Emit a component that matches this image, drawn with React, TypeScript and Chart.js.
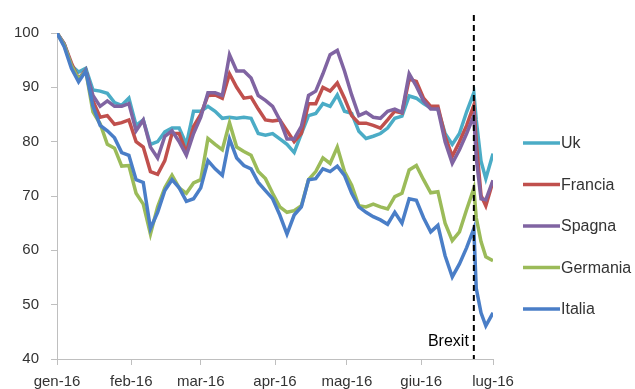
import React, { useEffect, useRef } from "react";
import { Chart, registerables } from "chart.js";

Chart.register(...registerables);

// Day offsets from 1 Jan 2016
const days = [0, 3, 6, 9, 12, 15, 18, 21, 24, 27, 30, 33, 36, 39, 42, 45, 48, 51, 54, 57, 60, 63, 66, 69, 72, 75, 78, 81, 84, 87, 90, 93, 96, 99, 102, 105, 108, 111, 114, 117, 120, 123, 126, 129, 132, 135, 138, 141, 144, 147, 150, 153, 156, 159, 162, 165, 168, 171, 174, 175, 177, 179, 182];

const uk = [100, 97.8, 94, 92.8, 93.5, 89.5, 89.3, 88.9, 87.2, 86.7, 88, 83, 84, 79.5, 80, 81.8, 82.5, 82.5, 79.5, 85.6, 85.6, 86.5, 85.6, 84.3, 84.5, 84.3, 84.5, 84.3, 81.5, 81.2, 81.5, 80.5, 79.5, 78, 81.5, 84.8, 85.2, 87, 86.5, 88.6, 85.6, 85.2, 81.9, 80.6, 81, 81.5, 82.5, 84.3, 84.7, 88.4, 88, 87, 86.2, 86, 81.5, 79.5, 81.5, 85.5, 89, 84, 76.4, 73.2, 77.8];
const francia = [100, 98, 94.5, 91.5, 93.2, 87.5, 84.5, 84.8, 83.2, 83.5, 84, 80, 79, 74.5, 74, 76.5, 81.5, 81.5, 78, 82.8, 85, 88.5, 88.6, 88, 92.5, 90, 88, 88.2, 86, 84, 83.8, 84, 82, 80, 81.5, 87, 87, 90, 89.3, 90.8, 88, 84.8, 83.4, 83.4, 83, 82.5, 84, 85.6, 85.3, 91.5, 91.1, 88, 86.5, 86.5, 81, 77.3, 80, 83, 86.7, 80, 70.1, 68.2, 72.7];
const spagna = [100, 98, 94, 91.5, 93.2, 88.5, 86.5, 87.5, 86.5, 86.5, 87, 82, 84, 79, 77, 81, 82, 80, 77.5, 81.5, 84.5, 89, 89, 88.5, 96, 93, 93, 91.7, 88.5, 87.6, 86.5, 84, 80.5, 80.5, 82.8, 88.5, 89.3, 92.5, 96, 96.8, 93, 88.6, 84.8, 85.4, 84.5, 84.3, 85.6, 86, 85.4, 92.5, 90.2, 87.5, 86, 86, 80, 76, 78.5, 81.5, 84.8, 77, 69.5, 69.3, 72.9];
const germania = [100, 97.8, 94, 91.5, 93, 85.5, 83.3, 79.5, 78.8, 75.5, 75.6, 70.5, 68.5, 63, 68, 71.5, 73.8, 71.5, 70.5, 72.4, 73, 80.6, 79.5, 78.5, 83.5, 79, 78.2, 77.5, 74.5, 73.2, 70.5, 68, 67, 67.3, 68.2, 73, 74.5, 77, 76, 79, 74.5, 72, 68.2, 68, 68.5, 68, 67.6, 69.9, 70.5, 74.8, 75.6, 73, 70.6, 70.8, 65, 61.8, 63.4, 67.5, 71.4, 66, 61.6, 58.8, 58.1];
const italia = [100, 97.5, 93.5, 91, 93, 86.5, 83, 82, 80.7, 78, 77.5, 73, 72.5, 64, 67, 71, 73, 71.5, 69, 69.5, 71.5, 76.5, 75, 73.8, 80.5, 77, 75.6, 75, 72.5, 71, 69.5, 66.5, 63, 66.5, 68, 73, 73.2, 75, 74.5, 75.5, 73.8, 70.5, 68, 67, 66.2, 65.6, 64.8, 67, 65, 69.5, 69.2, 66, 63.4, 64.6, 59, 55.1, 57.5, 60.5, 64, 53, 48.5, 46.1, 48.5];

const seriesNames = ["Uk", "Francia", "Spagna", "Germania", "Italia"];
const seriesColors = ["#4BACC6", "#C0504D", "#8064A2", "#9BBB59", "#4A7EC7"];

const monthDays = [0, 31, 60, 91, 121, 152, 182];
const monthLabels = ["gen-16", "feb-16", "mar-16", "apr-16", "mag-16", "giu-16", "lug-16"];
const yTicks = [40, 50, 60, 70, 80, 90, 100];

const brexitDay = 174;
const brexitLabel = "Brexit";

const FONT = "'Liberation Sans', Arial, sans-serif";

const overlayPlugin = {
  id: "overlay",
  afterDatasetsDraw(chart: any) {
    const { ctx, chartArea, scales } = chart;
    const x = scales.x.getPixelForValue(brexitDay);
    ctx.save();
    ctx.strokeStyle = "#000";
    ctx.lineWidth = 2;
    ctx.setLineDash([6, 4]);
    ctx.beginPath();
    ctx.moveTo(x, 15);
    ctx.lineTo(x, chartArea.bottom);
    ctx.stroke();
    ctx.setLineDash([]);
    ctx.fillStyle = "#000";
    ctx.font = `16px ${FONT}`;
    ctx.textAlign = "right";
    ctx.textBaseline = "alphabetic";
    ctx.fillText(brexitLabel, x - 5, chartArea.bottom - 13);

    // legend
    const lx = chartArea.right + 30;
    chart.data.datasets.forEach((ds: any, i: number) => {
      const y = chartArea.top + 110 + i * 41.5;
      ctx.strokeStyle = ds.borderColor;
      ctx.lineWidth = 3.5;
      ctx.beginPath();
      ctx.moveTo(lx, y);
      ctx.lineTo(lx + 37, y);
      ctx.stroke();
      ctx.fillStyle = "#333";
      ctx.font = `16px ${FONT}`;
      ctx.textAlign = "left";
      ctx.textBaseline = "middle";
      ctx.fillText(ds.label, lx + 38, y + 1);
    });
    ctx.restore();
  },
};

export default function App() {
  const ref = useRef<HTMLCanvasElement | null>(null);
  useEffect(() => {
    if (!ref.current) return;
    const allSeries = [uk, francia, spagna, germania, italia];
    const chart = new Chart(ref.current, {
      type: "line",
      data: {
        datasets: allSeries.map((vals, i) => ({
          label: seriesNames[i],
          data: vals.map((v, j) => ({ x: days[j], y: v })),
          borderColor: seriesColors[i],
          backgroundColor: seriesColors[i],
          borderWidth: 3.5,
          pointRadius: 0,
          tension: 0,
          order: 5 - i,
        })),
      },
      options: {
        responsive: false,
        animation: false,
        layout: { padding: { left: 2, right: 142, top: 33, bottom: 0 } },
        plugins: { legend: { display: false }, tooltip: { enabled: false } },
        scales: {
          x: {
            type: "linear",
            min: 0,
            max: 182,
            afterBuildTicks: (axis: any) => {
              axis.ticks = monthDays.map((v) => ({ value: v }));
            },
            ticks: {
              autoSkip: false,
              maxRotation: 0,
              padding: 8,
              color: "#333",
              font: { family: FONT, size: 15 },
              callback: (v: any) => monthLabels[monthDays.indexOf(Number(v))] ?? "",
            },
            grid: { drawOnChartArea: false, tickLength: 6, color: "#BFBFBF" },
            border: { color: "#BFBFBF", width: 1 },
          },
          y: {
            min: 40,
            max: 100,
            afterBuildTicks: (axis: any) => {
              axis.ticks = yTicks.map((v) => ({ value: v }));
            },
            ticks: {
              padding: 12,
              color: "#333",
              font: { family: FONT, size: 15 },
            },
            grid: { drawOnChartArea: false, tickLength: 6, color: "#BFBFBF" },
            border: { color: "#BFBFBF", width: 1 },
          },
        },
      },
      plugins: [overlayPlugin],
    });
    return () => chart.destroy();
  }, []);
  return (
    <div style={{ position: "absolute", left: 0, top: 0, width: 635, height: 389, overflow: "hidden", background: "#fff" }}>
      <canvas ref={ref} width={635} height={399} />
    </div>
  );
}
